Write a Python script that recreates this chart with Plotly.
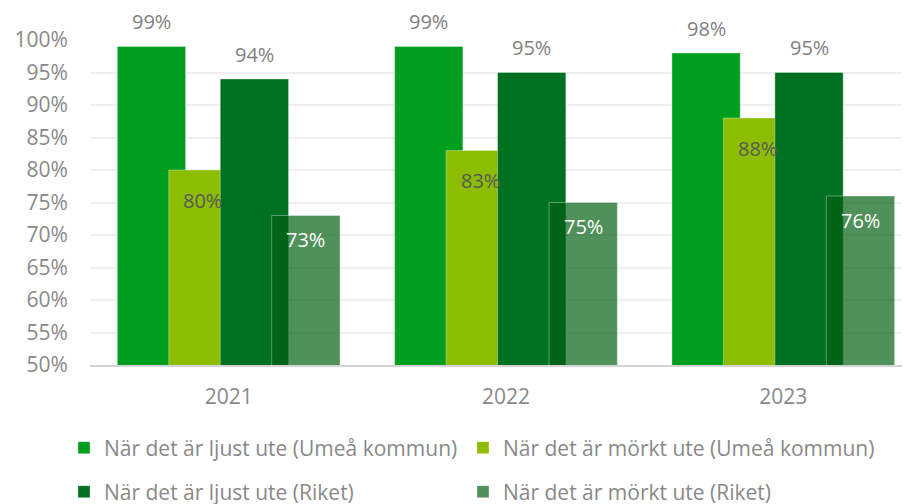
import plotly.graph_objects as go

years = ["2021", "2022", "2023"]
series_names = [
    "När det är ljust ute (Umeå kommun)",
    "När det är mörkt ute (Umeå kommun)",
    "När det är ljust ute (Riket)",
    "När det är mörkt ute (Riket)",
]
ljust_umea = [99, 99, 98]
morkt_umea = [80, 83, 88]
ljust_riket = [94, 95, 95]
morkt_riket = [73, 75, 76]
y_ticks = [50, 55, 60, 65, 70, 75, 80, 85, 90, 95, 100]

values = [ljust_umea, morkt_umea, ljust_riket, morkt_riket]
colors = ["#009e1f", "#8cbd00", "#007021", "rgba(0,94,18,0.69)"]
label_colors = ["#7f7f7f", "#595959", "#7f7f7f", "#ffffff"]
label_shift = [25, -30, 25, -24]

W = 0.2463
step = 0.1856
start = -0.4015
xs = list(range(len(years)))

# The page body has an 8px default margin, so the figure is 8px smaller.
FW, FH = 902, 496
FONT = "Open Sans"
legend_ids = ["legend", "legend2", "legend3", "legend4"]
legend_pos = [(56, 440), (455, 440), (56, 484), (455, 484)]

fig = go.Figure()
for k, (name, vals, col) in enumerate(zip(series_names, values, colors)):
    off = start + k * step
    fig.add_trace(go.Bar(
        x=xs, y=vals, name=name, width=W, offset=off,
        marker=dict(color=col, line=dict(color="rgba(255,255,255,0.35)", width=1)),
        legend=legend_ids[k],
        hoverinfo="skip",
    ))
    for i, v in enumerate(vals):
        fig.add_annotation(
            x=i + off + W / 2, y=v, xref="x", yref="y",
            text=f"{v}%", showarrow=False, yshift=label_shift[k],
            font=dict(family=FONT, size=20, color=label_colors[k]),
        )

legends = {}
for lid, (px, py) in zip(legend_ids, legend_pos):
    legends[lid] = dict(
        orientation="h", xref="container", yref="container",
        xanchor="left", yanchor="middle",
        x=px / FW, y=1 - py / FH, itemwidth=30,
        font=dict(family=FONT, size=21, color="#898989"),
        bgcolor="rgba(0,0,0,0)",
    )

fig.update_layout(
    width=FW, height=FH,
    barmode="overlay",
    plot_bgcolor="white", paper_bgcolor="white",
    margin=dict(l=82, r=0, t=32, b=139, autoexpand=False),
    font=dict(family=FONT, size=20, color="#898989"),
    xaxis=dict(
        range=[-0.5, 2.457], tickmode="array", tickvals=xs, ticktext=years,
        showgrid=False, showline=True, linecolor="#d4d4d4", linewidth=2,
        ticks="outside", ticklen=12, tickcolor="rgba(0,0,0,0)",
        tickfont=dict(family=FONT, size=21, color="#898989"),
        fixedrange=True,
    ),
    yaxis=dict(
        range=[50, 100], tickmode="array", tickvals=y_ticks,
        ticktext=[f"{t}%" for t in y_ticks],
        showgrid=True, gridcolor="#efefef", gridwidth=2,
        zeroline=False, showline=False,
        ticks="outside", ticklen=17, tickcolor="rgba(0,0,0,0)",
        tickfont=dict(family=FONT, size=21, color="#898989"),
        fixedrange=True,
    ),
    showlegend=True,
    **legends,
)

fig.write_html("out.html")
